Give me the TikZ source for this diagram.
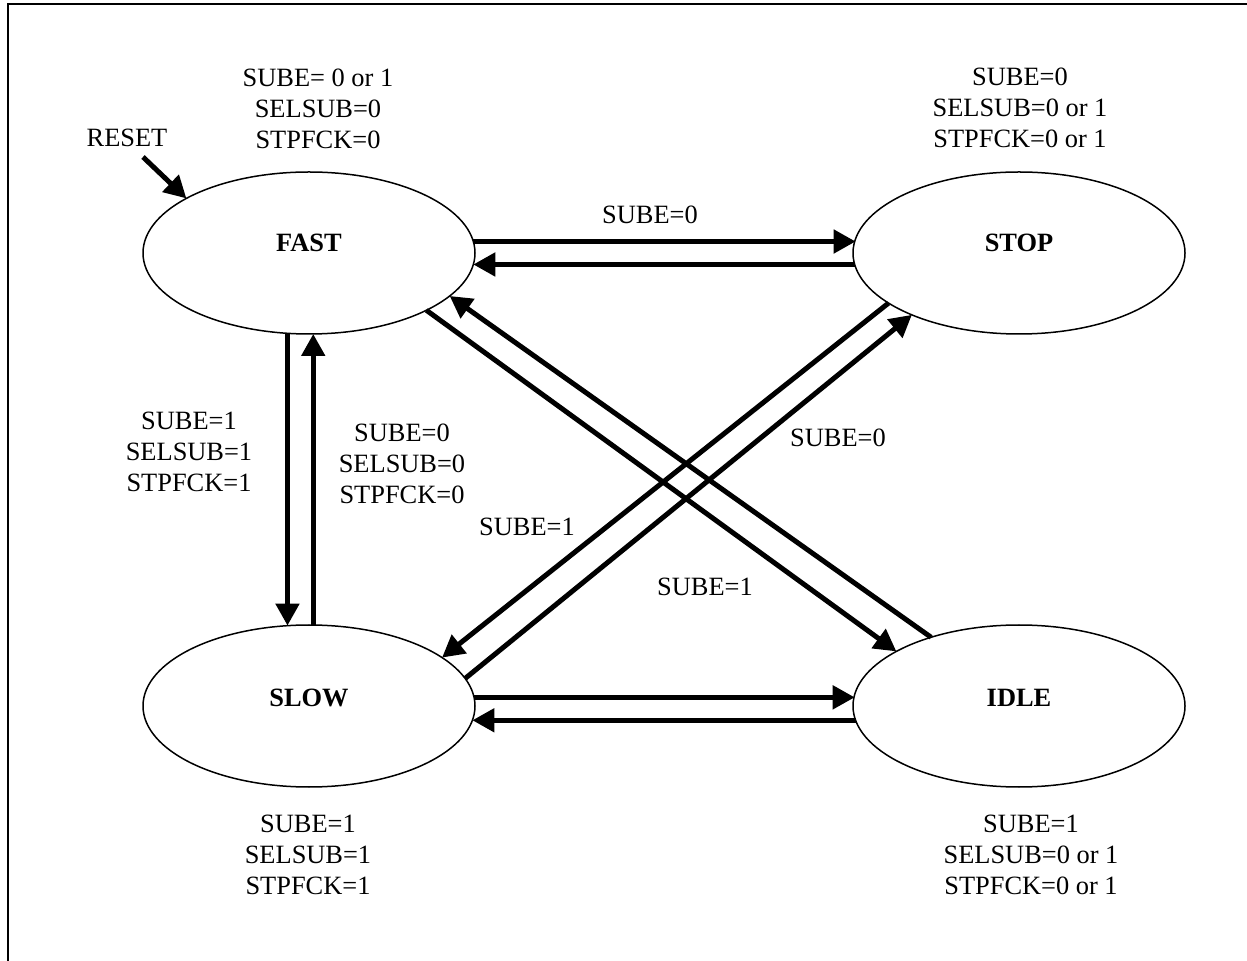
\documentclass[tikz,border=0pt]{standalone}
\usepackage{fontspec}
\setmainfont{Liberation Serif}
\usetikzlibrary{arrows.meta,shapes.geometric}
\begin{document}
\begin{tikzpicture}[x=0.5pt,y=-0.5pt,
  state/.style={draw, ellipse, line width=0.75pt, minimum width=166pt,
    minimum height=81pt, inner sep=0pt, outer sep=0pt},
  statename/.style={font=\fontsize{13.2pt}{15.6pt}\selectfont\bfseries, inner sep=0pt},
  lbl/.style={font=\fontsize{13.2pt}{15.6pt}\selectfont, inner sep=0pt, align=center},
  flow/.style={line width=2.5pt, -{Triangle[length=11pt,width=11.5pt]}}]
\useasboundingbox (0,0) rectangle (1247,961);

% outer frame (left and top edges)
\draw[line width=1pt] (7.5,970) -- (7.5,4) -- (1260,4);

% states
\node[state] (fast) at (309,253) {};
\node[state] (stop) at (1019,253) {};
\node[state] (slow) at (309,706) {};
\node[state] (idle) at (1019,706) {};
\node[statename] (fastname) at (309,243) {FAST};
\node[statename] (stopname) at (1019,243) {STOP};
\node[statename] (slowname) at (309,698) {SLOW};
\node[statename] (idlename) at (1019,698) {IDLE};

% reset entry
\node[lbl] (reset) at (127,138) {RESET};
\coordinate (resetfrom) at (143,157);
\draw[flow] (resetfrom) -- (fast.156);

% FAST <-> STOP (kept horizontal)
\draw[flow] (fast.4.2) -- (stop.175.8 |- fast.4.2);
\draw[flow] (stop.184.5) -- (fast.-4.5 |- stop.184.5);
% SLOW <-> IDLE
\draw[flow] (slow.3.5) -- (idle.176.5 |- slow.3.5);
\draw[flow] (idle.185.6) -- (slow.-5.6 |- idle.185.6);
% FAST <-> SLOW (kept vertical)
\draw[flow] (fast.255.5) -- (fast.255.5 |- slow.104.5);
\draw[flow] (slow.87.9) -- (slow.87.9 |- fast.272.1);
% FAST <-> IDLE
\draw[flow] (fast.-26.8) -- (idle.156);
\draw[flow] (idle.142.8) -- (fast.-17.6);
% STOP <-> SLOW
\draw[flow] (stop.201.1) -- (slow.20.8);
\draw[flow] (slow.10.7) -- (stop.210.1);

% state conditions
\node[lbl] (fastcond) at (318,109) {SUBE= 0 or 1\\SELSUB=0\\STPFCK=0};
\node[lbl] (stopcond) at (1020,108) {SUBE=0\\SELSUB=0 or 1\\STPFCK=0 or 1};
\node[lbl] (slowcond) at (308,855) {SUBE=1\\SELSUB=1\\STPFCK=1};
\node[lbl] (idlecond) at (1031,855) {SUBE=1\\SELSUB=0 or 1\\STPFCK=0 or 1};

% transition conditions
\node[lbl] (faststop) at (650,215) {SUBE=0};
\node[lbl] (fastslow) at (189,452) {SUBE=1\\SELSUB=1\\STPFCK=1};
\node[lbl] (slowfast) at (402,464) {SUBE=0\\SELSUB=0\\STPFCK=0};
\node[lbl] (slowstop) at (527,527) {SUBE=1};
\node[lbl] (idlefast) at (838,438) {SUBE=0};
\node[lbl] (fastidle) at (705,587) {SUBE=1};
\end{tikzpicture}
\end{document}
